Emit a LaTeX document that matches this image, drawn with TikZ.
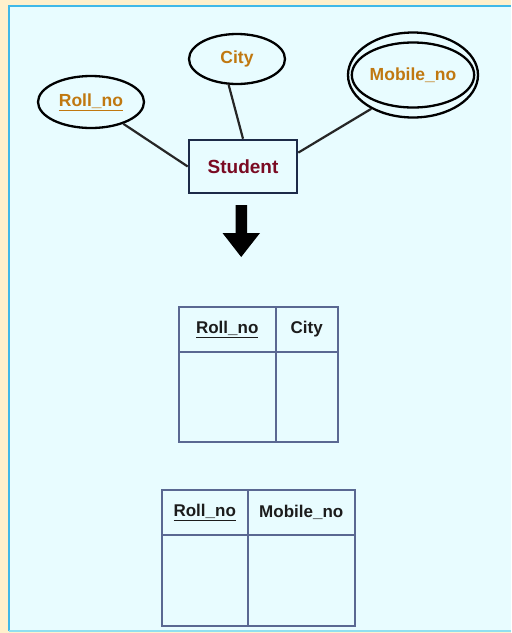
\documentclass[tikz,border=0pt]{standalone}
\usepackage{fontspec}
\setmainfont{Liberation Sans}
\usetikzlibrary{shapes.geometric,calc}

\definecolor{pagecream}{HTML}{FFF0CC}
\definecolor{panelfill}{HTML}{E8FCFF}
\definecolor{panelrule}{HTML}{40B8E8}
\definecolor{panelrulelow}{HTML}{90E0F0}
\definecolor{attrtext}{HTML}{C07810}
\definecolor{entitytext}{HTML}{7A0A22}
\definecolor{entityrule}{HTML}{1C2A48}
\definecolor{tablerule}{HTML}{5A6892}
\definecolor{tabletext}{HTML}{1C1C1C}

\tikzset{
  attr/.style={ellipse, draw=black, line width=2.3pt, inner sep=0pt,
    text=attrtext, font=\fontsize{17.5}{21}\selectfont\bfseries},
  entity/.style={rectangle, draw=entityrule, line width=2.6pt, inner sep=0pt,
    minimum width=108pt, minimum height=53pt, text=entitytext,
    font=\fontsize{19}{23}\selectfont\bfseries},
  link/.style={line width=2.2pt, draw=black!85},
  cell/.style={rectangle, draw=tablerule, line width=1.5pt, inner sep=0pt,
    anchor=north west, text=tabletext, font=\fontsize{17}{20}\selectfont\bfseries},
}

\begin{document}
\begin{tikzpicture}[x=1pt, y=-1pt]
  % page and panel
  \fill[pagecream] (0,0) rectangle (511,633);
  \fill[panelfill] (9,6) rectangle (511,631);
  \draw[panelrule, line width=1.5pt] (9,631) -- (9,6) -- (511,6);
  \draw[panelrulelow, line width=1.5pt] (9,631) -- (511,631);
  \useasboundingbox (0,0) rectangle (511,633);

  % ER diagram
  \node[attr, minimum width=106pt, minimum height=52pt] (roll) at (91,102) {\underline{Roll\_no}};
  \node[attr, minimum width=96pt, minimum height=50pt] (city) at (237,59) {City};
  \node[attr, minimum width=130pt, minimum height=85pt] (mobouter) at (413,75) {};
  \node[attr, minimum width=110pt, minimum height=65pt] (mob) at (413,75) {Mobile\_no};
  \node[entity] (student) at (243,166.5) {Student};

  \draw[link] (roll.-34) -- (student.west);
  \draw[link] (city.-108) -- (student.north);
  \draw[link] (mobouter.219) -- ($(student.east)!0.5!(student.north east)$);

  % mapping arrow
  \fill[black] (235.5,205) -- (247,205) -- (247,233) -- (260,233) -- (241.2,257)
    -- (222.5,233) -- (235.5,233) -- cycle;

  % table for Roll_no and City
  \node[cell, minimum width=97pt, minimum height=45pt] (t1a) at (178,306) {\underline{Roll\_no}};
  \node[cell, minimum width=62pt, minimum height=45pt] (t1b) at (275,306) {City};
  \node[cell, minimum width=97pt, minimum height=90pt] (t1c) at (178,351) {};
  \node[cell, minimum width=62pt, minimum height=90pt] (t1d) at (275,351) {};

  % table for Roll_no and Mobile_no
  \node[cell, minimum width=86pt, minimum height=45pt] (t2a) at (161,489) {\underline{Roll\_no}};
  \node[cell, minimum width=107pt, minimum height=45pt] (t2b) at (247,489) {Mobile\_no};
  \node[cell, minimum width=86pt, minimum height=91pt] (t2c) at (161,534) {};
  \node[cell, minimum width=107pt, minimum height=91pt] (t2d) at (247,534) {};
\end{tikzpicture}
\end{document}
